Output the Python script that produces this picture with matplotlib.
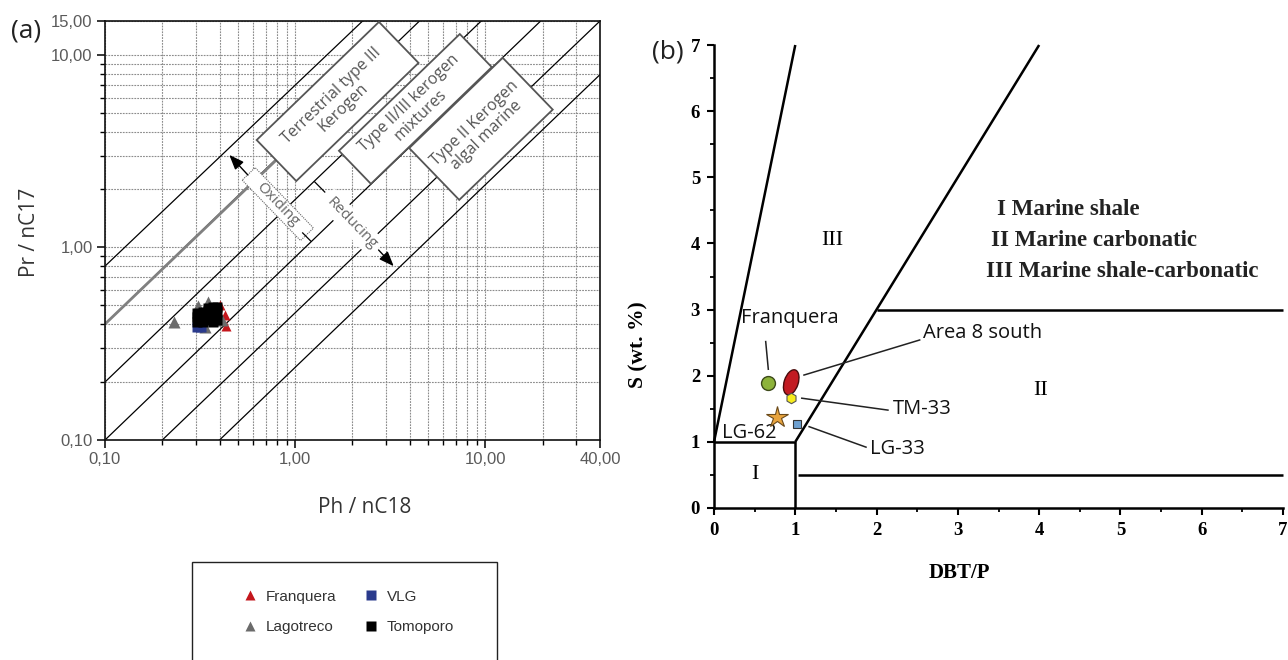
import matplotlib
matplotlib.use("Agg")
import matplotlib.pyplot as plt
from matplotlib.patches import Rectangle, Ellipse
from matplotlib.transforms import Affine2D, ScaledTranslation
from matplotlib.ticker import FixedLocator, FixedFormatter, NullFormatter

W, H = 1288, 660

# ---------------- (a) Pristane/nC17 vs Phytane/nC18 ----------------
franquera_ph = [0.402, 0.425, 0.435]
franquera_pr = [0.503, 0.445, 0.392]
lagotreco_ph = [0.23, 0.308, 0.347, 0.411, 0.335]
lagotreco_pr = [0.41, 0.497, 0.521, 0.42, 0.386]
vlg_ph = [0.305, 0.318]
vlg_pr = [0.385, 0.385]
tomoporo_ph = [0.306, 0.306, 0.306, 0.327, 0.327, 0.327, 0.347, 0.347, 0.347,
               0.369, 0.369, 0.369, 0.387, 0.387, 0.387, 0.36, 0.38]
tomoporo_pr = [0.41, 0.435, 0.455, 0.41, 0.44, 0.46, 0.42, 0.45, 0.485,
               0.41, 0.45, 0.49, 0.42, 0.46, 0.49, 0.47, 0.44]

# iso-ratio guide lines (start / end points)
guide_ph_start = [0.1, 0.1, 0.1, 0.1, 0.2, 0.4]
guide_pr_start = [0.8, 0.4, 0.2, 0.1, 0.1, 0.1]
guide_ph_end = [2.26, 4.5, 9.5, 19.5, 40.0, 40.0]
guide_pr_end = [15.0, 15.0, 15.0, 15.0, 15.0, 7.9]

x_major = [0.1, 1, 10, 40]
x_major_labels = ["0,10", "1,00", "10,00", "40,00"]
y_major = [0.1, 1, 10, 15]
y_major_labels = ["0,10", "1,00", "10,00", "15,00"]
x_minor = [0.2, 0.3, 0.4, 0.5, 0.6, 0.7, 0.8, 0.9, 2, 3, 4, 5, 6, 7, 8, 9, 20, 30]
y_minor = [0.2, 0.3, 0.4, 0.5, 0.6, 0.7, 0.8, 0.9, 2, 3, 4, 5, 6, 7, 8, 9]

kerogen_labels = ["Terrestrial type III\nKerogen",
                  "Type II/III kerogen\nmixtures",
                  "Type II Kerogen\nalgal marine"]
kerogen_ph = [1.67, 4.28, 9.47]
kerogen_pr = [5.73, 5.24, 4.13]

# ---------------- (b) S vs DBT/P ----------------
sample_names = ["Franquera", "Area 8 south", "TM-33", "LG-62", "LG-33"]
sample_dbtp = [0.66, 0.95, 0.943, 0.771, 1.025]
sample_s = [1.886, 1.9, 1.66, 1.38, 1.27]

facies_names = ["I Marine shale", "II Marine carbonatic", "III Marine shale-carbonatic"]
zone_labels = ["I", "II", "III"]
zone_x = [0.5, 4.02, 1.46]
zone_y = [0.5, 1.77, 4.04]

fig = plt.figure(figsize=(W / 100, H / 100), dpi=100)

SANS = ["Open Sans", "DejaVu Sans"]
ARIAL = ["Liberation Sans", "DejaVu Sans"]
SERIF = ["Liberation Serif", "DejaVu Serif"]

# ======================= panel (a) =======================
axa = fig.add_axes([105 / W, 1 - 440 / H, 495 / W, 419 / H])
axa.set_xscale("log")
axa.set_yscale("log")
axa.set_xlim(0.1, 40)
axa.set_ylim(0.1, 15)
axa.xaxis.set_major_locator(FixedLocator(x_major))
axa.xaxis.set_major_formatter(FixedFormatter(x_major_labels))
axa.yaxis.set_major_locator(FixedLocator(y_major))
axa.yaxis.set_major_formatter(FixedFormatter(y_major_labels))
axa.xaxis.set_minor_locator(FixedLocator(x_minor))
axa.yaxis.set_minor_locator(FixedLocator(y_minor))
axa.xaxis.set_minor_formatter(NullFormatter())
axa.yaxis.set_minor_formatter(NullFormatter())
axa.set_axisbelow(True)
axa.grid(which="both", linestyle=(0, (1.6, 1.0)), color="#8c8c8c", linewidth=0.8)
axa.tick_params(which="major", direction="out", length=6, width=1.1,
                labelsize=12, labelcolor="#5a5a5a", pad=3)
axa.tick_params(which="minor", direction="out", length=3.5, width=1.0)
for lab in axa.get_xticklabels() + axa.get_yticklabels():
    lab.set_family(ARIAL)
for s in axa.spines.values():
    s.set_linewidth(1.2)
    s.set_color("#111111")

axa.set_xlabel("Ph / nC18", fontsize=15, color="#333333", family=SANS)
axa.set_ylabel("Pr / nC17", fontsize=15, color="#333333", family=SANS)
axa.xaxis.set_label_coords(0.525, -0.136)
axa.yaxis.set_label_coords(-0.131, 0.496)

for x0, y0, x1, y1 in zip(guide_ph_start, guide_pr_start, guide_ph_end, guide_pr_end):
    axa.plot([x0, x1], [y0, y1], color="black", lw=0.9, zorder=2)
# grey oxic/anoxic boundary along the 4:1 line
axa.plot([guide_ph_start[1], 0.9], [guide_pr_start[1], 3.2], color="#808080", lw=2.0,
         zorder=2.5, solid_capstyle="butt")


def rotated_box(ax, xc, yc, w, h, ang, **kw):
    tr = Affine2D().rotate_deg(ang) + ScaledTranslation(xc, yc, ax.transData)
    p = Rectangle((-w / 2, -h / 2), w, h, transform=tr, **kw)
    ax.add_artist(p)
    return p


box_sizes = [(170, 57), (168, 46), (130, 72)]
for lab, xc, yc, (bw, bh) in zip(kerogen_labels, kerogen_ph, kerogen_pr, box_sizes):
    rotated_box(axa, xc, yc, bw, bh, 44, facecolor="white", edgecolor="#555555",
                lw=1.3, zorder=4)
    axa.text(xc, yc, lab, rotation=44, rotation_mode="anchor", ha="center",
             va="center", fontsize=11.5, color="#555555", family=SANS,
             linespacing=1.05, zorder=5)

# oxidising / reducing indicators
rotated_box(axa, 0.81, 1.68, 84, 18, -46, facecolor="white", edgecolor="#666666",
            lw=0.8, linestyle=(0, (1, 1)), zorder=4)
axa.text(0.81, 1.68, "Oxiding", rotation=-46, rotation_mode="anchor", ha="center",
         va="center", fontsize=11, color="#666666", family=SANS, zorder=5)
axa.text(1.98, 1.34, "Reducing", rotation=-46, rotation_mode="anchor", ha="center",
         va="center", fontsize=11, color="#666666", family=SANS, zorder=5,
         bbox=dict(boxstyle="square,pad=0.25", fc="white", ec="none"))
arrow_kw = dict(arrowstyle="-|>,head_length=0.9,head_width=0.35", color="black", lw=1.0)
axa.annotate("", xy=(0.44, 3.1), xytext=(0.577, 2.32), arrowprops=arrow_kw, zorder=6)
axa.annotate("", xy=(3.37, 0.78), xytext=(2.68, 0.994), arrowprops=arrow_kw, zorder=6)
axa.plot([1.266, 1.43], [2.19, 1.94], color="black", lw=0.9, zorder=5)
axa.plot([1.094, 1.206], [1.19, 1.08], color="black", lw=0.9, zorder=5)

h_fr, = axa.plot(franquera_ph, franquera_pr, ls="none", marker="^", ms=7,
                 color="#c4161c", mec="none", zorder=6, label="Franquera")
h_lag, = axa.plot(lagotreco_ph, lagotreco_pr, ls="none", marker="^", ms=9,
                  color="#6b6b6b", mec="none", zorder=6.1, label="Lagotreco")
h_vlg, = axa.plot(vlg_ph, vlg_pr, ls="none", marker="s", ms=6.5,
                  color="#2a3a8c", mec="none", zorder=6.2, label="VLG")
h_tom, = axa.plot(tomoporo_ph, tomoporo_pr, ls="none", marker="s", ms=6.5,
                  color="black", mec="none", zorder=6.3, label="Tomoporo")

leg = fig.legend(handles=[h_fr, h_lag, h_vlg, h_tom],
                 labels=["Franquera", "Lagotreco", "VLG", "Tomoporo"],
                 ncol=2, loc="center", bbox_to_anchor=(349 / W, 1 - 612 / H),
                 frameon=False, handlelength=0.8, handletextpad=0.6,
                 columnspacing=1.9, labelspacing=1.1, borderpad=0,
                 prop={"family": ARIAL, "size": 11}, labelcolor="#333333")
for hnd in leg.legend_handles:
    hnd.set_markersize(6.5)
fig.add_artist(Rectangle((192 / W, -0.2), (497 - 192) / W, 0.2 + (660 - 562) / H,
                         transform=fig.transFigure, fill=False, ec="#222222", lw=1.0))

fig.text(26 / W, 1 - 31 / H, "(a)", fontsize=19, color="#222222", family=SANS,
         ha="center", va="center")

# ======================= panel (b) =======================
axb = fig.add_axes([714 / W, 1 - 508 / H, 569 / W, 463 / H])
axb.set_xlim(0, 7)
axb.set_ylim(0, 7)
for side in ("top", "right"):
    axb.spines[side].set_visible(False)
for side in ("left", "bottom"):
    axb.spines[side].set_linewidth(1.8)
axb.set_xticks(range(0, 8))
axb.set_yticks(range(0, 8))
axb.set_xticks([i + 0.5 for i in range(7)], minor=True)
axb.set_yticks([i + 0.5 for i in range(7)], minor=True)
axb.tick_params(which="major", direction="out", length=5, width=1.5,
                labelsize=13.5, pad=5)
axb.tick_params(which="minor", direction="out", length=3, width=1.3)
for lab in axb.get_xticklabels() + axb.get_yticklabels():
    lab.set_family(SERIF)
    lab.set_fontweight("bold")
axb.set_xlabel("DBT/P", fontsize=15, fontweight="bold", family=SERIF)
axb.set_ylabel("S (wt. %)", fontsize=15.5, fontweight="bold", family=SERIF)
axb.xaxis.set_label_coords(0.432, -0.119)
axb.yaxis.set_label_coords(-0.116, 0.352)

seg_kw = dict(color="black", lw=1.8, clip_on=False, solid_capstyle="butt")
axb.plot([0, 1], [1, 7], **seg_kw)
axb.plot([1, 4], [1, 7], **seg_kw)
axb.plot([2, 7], [3, 3], **seg_kw)
axb.plot([0, 1, 1], [1, 1, 0], **seg_kw)
axb.plot([1.03, 7], [0.5, 0.5], **seg_kw)

for lab, zx, zy in zip(zone_labels, zone_x, zone_y):
    axb.text(zx, zy, lab, fontsize=16, family=SERIF, ha="center", va="center")

for i, name in enumerate(facies_names):
    axb.text([3.48, 3.41, 3.35][i], [4.51, 4.04, 3.58][i], name, fontsize=16.5,
             fontweight="bold", family=SERIF, ha="left", va="center", color="#222222")

# leader lines
lead_kw = dict(color="#222222", lw=1.1)
axb.plot([0.636, 0.668], [2.516, 2.098], **lead_kw)
axb.plot([1.107, 2.53], [2.01, 2.54], **lead_kw)
axb.plot([1.08, 2.14], [1.66, 1.48], **lead_kw)
axb.plot([1.17, 1.87], [1.23, 0.92], **lead_kw)

# samples
axb.plot(sample_dbtp[0], sample_s[0], marker="o", ms=10, color="#8db33a",
         mec="#3d4a1a", mew=1.0, zorder=5)
tr_e = ScaledTranslation(sample_dbtp[1], sample_s[1], axb.transData)
axb.add_artist(Ellipse((0, 0), 14, 26, angle=-18, transform=tr_e,
                       facecolor="#c21b22", edgecolor="#4a0c0c", lw=1.0, zorder=5))
axb.plot(sample_dbtp[2], sample_s[2], marker="h", ms=7.5, color="#f7ec1c",
         mec="#555555", mew=0.8, zorder=5)
axb.plot(sample_dbtp[3], sample_s[3], marker="*", ms=16, color="#e8a43e",
         mec="#6b4a1a", mew=0.8, zorder=5)
axb.plot(sample_dbtp[4], sample_s[4], marker="s", ms=6, color="#6ea0d0",
         mec="#333333", mew=0.8, zorder=5)

ann_kw = dict(fontsize=14.5, family=SANS, color="#111111", va="center")
axb.text(0.935, 2.87, sample_names[0], ha="center", **ann_kw)
axb.text(2.57, 2.65, sample_names[1], ha="left", **ann_kw)
axb.text(2.20, 1.50, sample_names[2], ha="left", **ann_kw)
axb.text(0.10, 1.13, sample_names[3], ha="left", **ann_kw)
axb.text(1.92, 0.89, sample_names[4], ha="left", **ann_kw)

fig.text(668 / W, 1 - 52 / H, "(b)", fontsize=19, color="#222222", family=SANS,
         ha="center", va="center")

fig.savefig("out.png", dpi=100, facecolor="white")
